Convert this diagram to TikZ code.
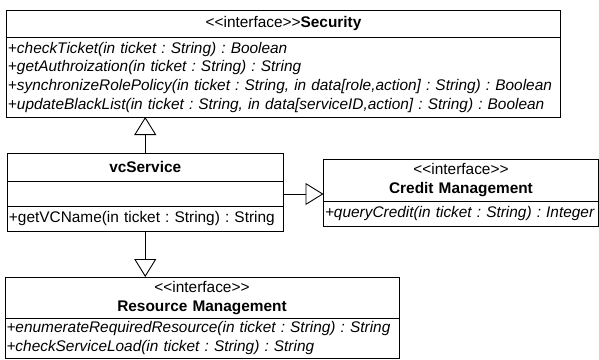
\documentclass[tikz,border=0pt]{standalone}
\usepackage{fontspec}
\setmainfont{Liberation Sans}
\usetikzlibrary{arrows.meta}
\frenchspacing
\hyphenpenalty=10000
\newcommand\stereo{<\kern0pt<interface>\kern0pt>}

\begin{document}
\begin{tikzpicture}[x=1pt,y=-1pt,
    box/.style={draw,line width=0.9pt,anchor=north west,inner sep=1.5pt,outer sep=0pt,
        font=\fontsize{15.4}{18.7}\selectfont},
    head/.style={box,align=center},
    ops/.style={box,align=left,font=\fontsize{15.4}{18.7}\selectfont\itshape},
    real/.style={line width=0.9pt,-{Triangle[open,length=18pt,width=22pt]}}
]
\useasboundingbox (0,0) rectangle (599,359);

\node[head,text width=551pt,minimum height=27.5pt] (sec) at (6.5,10)
    {\stereo\textbf{Security}};
\node[ops,text width=551pt,minimum height=79.5pt] (secops) at (sec.south west)
    {\mbox{+checkTicket(in ticket : String) : Boolean}\\
     \mbox{+getAuthroization(in ticket : String) : String}\\
     \mbox{+synchronizeRolePolicy(in ticket : String, in data[role,action] : String) : Boolean}\\
     \mbox{+updateBlackList(in ticket : String, in data[serviceID,action] : String) : Boolean}};

\node[head,text width=272.5pt,minimum height=28.5pt] (vc) at (7.5,153)
    {\textbf{vcService}};
\node[box,text width=272.5pt,minimum height=25pt] (vcattr) at (vc.south west) {};
\node[box,align=left,text width=272.5pt,minimum height=24.5pt] (vcops) at (vcattr.south west)
    {\mbox{+getVCName(in ticket : String) : String}};

\node[head,text width=272pt,minimum height=41.5pt] (cm) at (323.5,159.5)
    {\stereo\\\textbf{Credit Management}};
\node[ops,text width=272pt,minimum height=25pt] (cmops) at (cm.south west)
    {\mbox{+queryCredit(in ticket : String) : Integer}};

\node[head,text width=391pt,minimum height=41.5pt] (rm) at (5,277)
    {\stereo\\\textbf{Resource Management}};
\node[ops,text width=391pt,minimum height=39.5pt] (rmops) at (rm.south west)
    {\mbox{+enumerateRequiredResource(in ticket : String) : String}\\
     \mbox{+checkServiceLoad(in ticket : String) : String}};

\draw[real] (vc.north) -- (vc.north |- secops.south);
\draw[real] (vcattr.east) -- (vcattr.east -| cm.west);
\draw[real] (vcops.south) -- (vcops.south |- rm.north);
\end{tikzpicture}
\end{document}
